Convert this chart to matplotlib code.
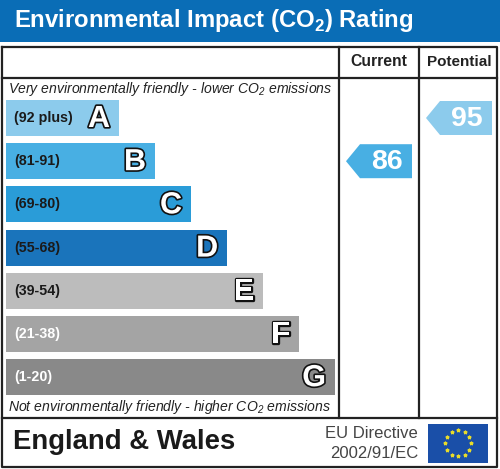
import numpy as np
import matplotlib.pyplot as plt
import matplotlib.patheffects as pe
from matplotlib.patches import Rectangle, Polygon

bands = ['A', 'B', 'C', 'D', 'E', 'F', 'G']
ranges = ['(92 plus)', '(81-91)', '(69-80)', '(55-68)', '(39-54)', '(21-38)', '(1-20)']
band_floor = [92, 81, 69, 55, 39, 21, 1]
band_colors = ['#8ccbec', '#48afe3', '#2a9cd8', '#1a74bb', '#bcbcbc', '#a4a4a4', '#898989']
range_text_colors = ['#1a1a1a', '#1a1a1a', '#1a1a1a', '#1a1a1a', '#1a1a1a', 'white', 'white']
current = 86
potential = 95

title = r'Environmental Impact (CO$_\mathregular{2}$) Rating'
top_note = r'Very environmentally friendly - lower CO$_\mathregular{2}$ emissions'
bottom_note = r'Not environmentally friendly - higher CO$_\mathregular{2}$ emissions'

plt.rcParams['font.family'] = ['Liberation Sans', 'DejaVu Sans']

fig = plt.figure(figsize=(5.0, 4.69), dpi=100)
ax = fig.add_axes([0, 0, 1, 1])
ax.set_xlim(0, 500)
ax.set_ylim(469, 0)
ax.axis('off')

# title band
ax.add_patch(Rectangle((0, 0), 500, 42, color='#0a6db6', lw=0))
ax.text(14, 21, title, color='white', fontsize=17.2, fontweight='bold', va='center', ha='left')

# frame
lk = dict(color='#222222', lw=1.6)
ax.plot([2, 497, 497, 2, 2], [47, 47, 467, 467, 47], **lk)
ax.plot([2, 497], [78, 78], **lk)
ax.plot([2, 497], [418, 418], **lk)
ax.plot([339, 339], [47, 418], **lk)
ax.plot([419, 419], [47, 418], **lk)

ax.text(379, 62, 'Current', fontsize=11.3, fontweight='bold', ha='center', va='center', color='#222222')
ax.text(459, 62, 'Potential', fontsize=11, fontweight='bold', ha='center', va='center', color='#222222')

ax.text(8, 89, top_note, fontsize=10.1, style='italic', ha='left', va='center', color='#222222')
ax.text(8, 407, bottom_note, fontsize=10.1, style='italic', ha='left', va='center', color='#222222')

outline = [pe.withStroke(linewidth=2.4, foreground='#111111')]
row_top = 100
row_step = 43.2
row_h = 36
for i, (b, r, c, tc) in enumerate(zip(bands, ranges, band_colors, range_text_colors)):
    y0 = row_top + i * row_step
    right = 119 + 36 * i
    ax.add_patch(Rectangle((6, y0), right - 6, row_h, color=c, lw=0))
    ax.text(14, y0 + row_h / 2, r, fontsize=10.3, fontweight='bold', color=tc, ha='left', va='center')
    ax.text(right - 9, y0 + row_h / 2 + 1, b, fontsize=22, fontweight='bold', color='white',
            ha='right', va='center', path_effects=outline)


def band_of(v):
    for i, f in enumerate(band_floor):
        if v >= f:
            return i
    return len(band_floor) - 1


def arrow(value, x_left, x_right):
    i = band_of(value)
    y0 = row_top + i * row_step + 1
    h = 34
    tip = 14
    pts = [(x_left, y0 + h / 2), (x_left + tip, y0), (x_right, y0), (x_right, y0 + h), (x_left + tip, y0 + h)]
    ax.add_patch(Polygon(pts, closed=True, color=band_colors[i], lw=0))
    ax.text((x_left + tip + x_right) / 2 + 0.5, y0 + h / 2 + 1, str(value), fontsize=20.5, fontweight='bold',
            color='white', ha='center', va='center')


arrow(current, 346, 412)
arrow(potential, 426, 492)

# footer
ax.text(13, 442, 'England & Wales', fontsize=19.8, fontweight='bold', ha='left', va='center', color='#1a1a1a')
ax.text(418, 433, 'EU Directive', fontsize=12, ha='right', va='center', color='#444444')
ax.text(418, 453, '2002/91/EC', fontsize=12, ha='right', va='center', color='#444444')

ax.add_patch(Rectangle((428, 424), 60, 39, color='#1a4fa8', lw=0))
ang = np.arange(12) * np.pi / 6
ax.scatter(458 + 13 * np.cos(ang), 443.5 + 13 * np.sin(ang), s=5, marker='*', color='#e8dc2a', zorder=5)

fig.savefig('out.png', dpi=100)
